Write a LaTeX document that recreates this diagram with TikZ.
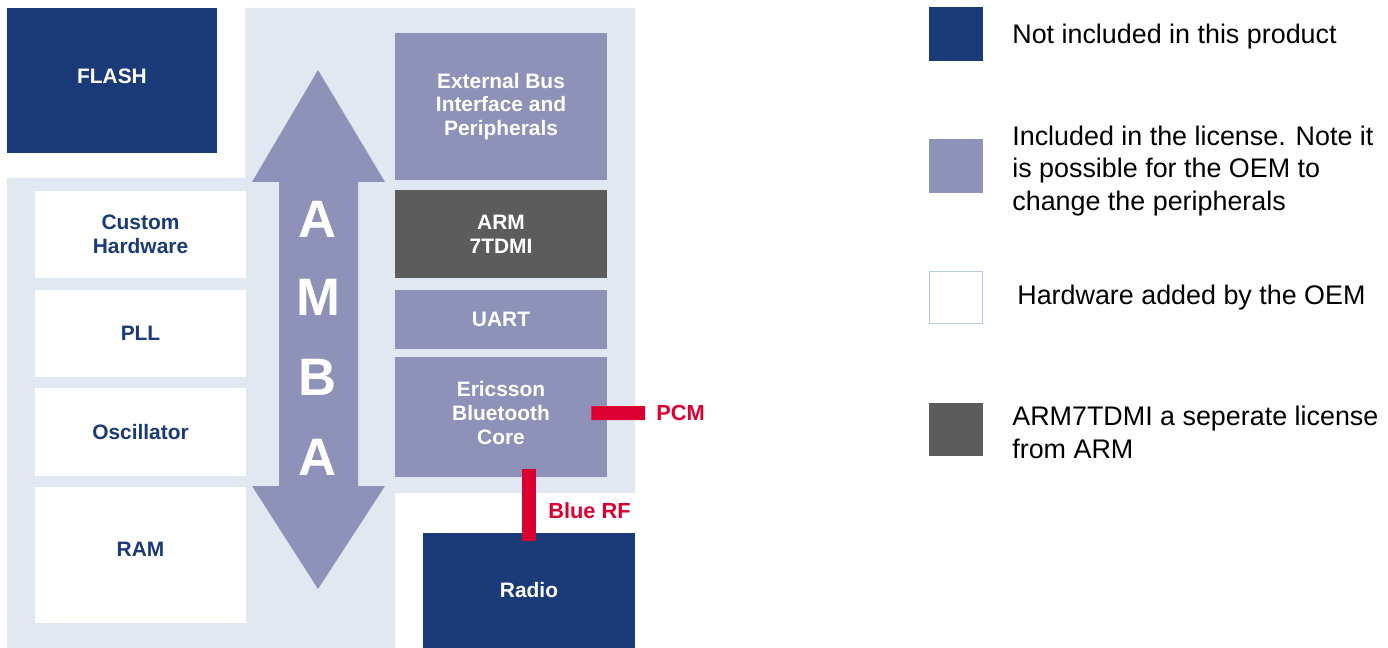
\documentclass[tikz,border=0pt]{standalone}
\usepackage{fontspec}
\setmainfont{Liberation Sans}
\definecolor{darkblue}{HTML}{1B3A78}
\definecolor{lilac}{HTML}{8F92B8}
\definecolor{armgrey}{HTML}{5C5C5C}
\definecolor{pale}{HTML}{E2E8F2}
\definecolor{rfred}{HTML}{DC0032}
\definecolor{keyedge}{HTML}{B8CCE8}
\begin{document}
\begin{tikzpicture}
    [x=0.02cm, y=-0.02cm,
     block/.style={minimum width=4.22cm, inner sep=0pt, align=center,
                   font=\bfseries\fontsize{11.9}{13.6}\selectfont},
     oem/.style={block, fill=white, text=darkblue},
     licensed/.style={block, fill=lilac, text=white},
     excluded/.style={block, fill=darkblue, text=white},
     armcore/.style={block, fill=armgrey, text=white},
     wire/.style={draw=rfred, line width=0.28cm},
     wirelabel/.style={text=rfred, inner sep=0.1cm, font=\bfseries\fontsize{12.4}{13.6}\selectfont},
     key/.style={minimum size=1.08cm, inner sep=0pt},
     keytext/.style={anchor=west, align=left, inner sep=0pt, font=\fontsize{15.3}{18.7}\selectfont}]
    \useasboundingbox (0,0) rectangle (1388,648);
    % background of the chip
    \fill[pale] (245,8) -- (635,8) -- (635,493) -- (395,493) -- (395,648)
                -- (7,648) -- (7,178) -- (245,178) -- cycle;
    \node[excluded, minimum width=4.2cm, minimum height=2.9cm, text depth=0.16cm] (flash) at (112,80.5) {FLASH};
    % hardware of the OEM
    \node[oem, minimum height=1.74cm] (custom) at (140.5,234.5) {Custom\\Hardware};
    \node[oem, minimum height=1.74cm] (pll) at (140.5,333.5) {PLL};
    \node[oem, minimum height=1.76cm] (osc) at (140.5,432) {Oscillator};
    \node[oem, minimum height=2.72cm, text depth=0.24cm] (ram) at (140.5,555) {RAM};
    % AMBA bus
    \fill[lilac] (318,70) -- (385,182) -- (358,182) -- (358,486) -- (385,486) -- (318,589)
                 -- (252,486) -- (279,486) -- (279,182) -- (252,182) -- cycle;
    \foreach \letter/\y in {A/219, M/297, B/377, A/457}
        \node[text=white, font=\bfseries\fontsize{30}{30}\selectfont] at (318,\y) {\letter};
    % licensed core
    \node[licensed, minimum width=4.24cm, minimum height=2.94cm] (ebi) at (501,106.5) {External Bus\\Interface and\\Peripherals};
    \node[armcore, minimum width=4.24cm, minimum height=1.76cm] (arm) at (501,234) {ARM\\7TDMI};
    \node[licensed, minimum width=4.24cm, minimum height=1.18cm] (uart) at (501,319.5) {UART};
    \node[licensed, minimum width=4.24cm, minimum height=2.4cm, text depth=0.16cm] (core) at (501,417) {Ericsson\\Bluetooth\\Core};
    \node[excluded, minimum width=4.24cm, minimum height=2.3cm] (radio) at (529,590.5) {Radio};
    % signals
    \node[wirelabel, anchor=west] (pcm) at (651,413) {PCM};
    \node[wirelabel, anchor=west] (bluerf) at (543,511) {Blue RF};
    \draw[wire] ([xshift=-0.32cm, yshift=0.08cm]core.east) -- ([xshift=-0.12cm]pcm.west);
    \draw[wire] ([yshift=-0.16cm]radio.north) -- ([yshift=0.16cm]radio.north |- core.south);
    % legend
    \node[key, fill=darkblue] (k1) at (956,34) {};
    \node[key, fill=lilac] (k2) at (956,166) {};
    \node[key, fill=white, draw=keyedge, line width=0.02cm, minimum size=1.06cm] (k3) at (956,297.5) {};
    \node[key, fill=armgrey] (k4) at (956,429.5) {};
    \node[keytext] (t1) at (1012,37) {Not included in this product};
    \node[keytext] (t2) at (1012,171) {Included in the license. Note it\\is possible for the OEM to\\change the peripherals};
    \node[keytext] (t3) at (1017,298) {Hardware added by the OEM};
    \node[keytext] (t4) at (1012,432) {ARM7TDMI a seperate license\\from ARM};
\end{tikzpicture}
\end{document}
